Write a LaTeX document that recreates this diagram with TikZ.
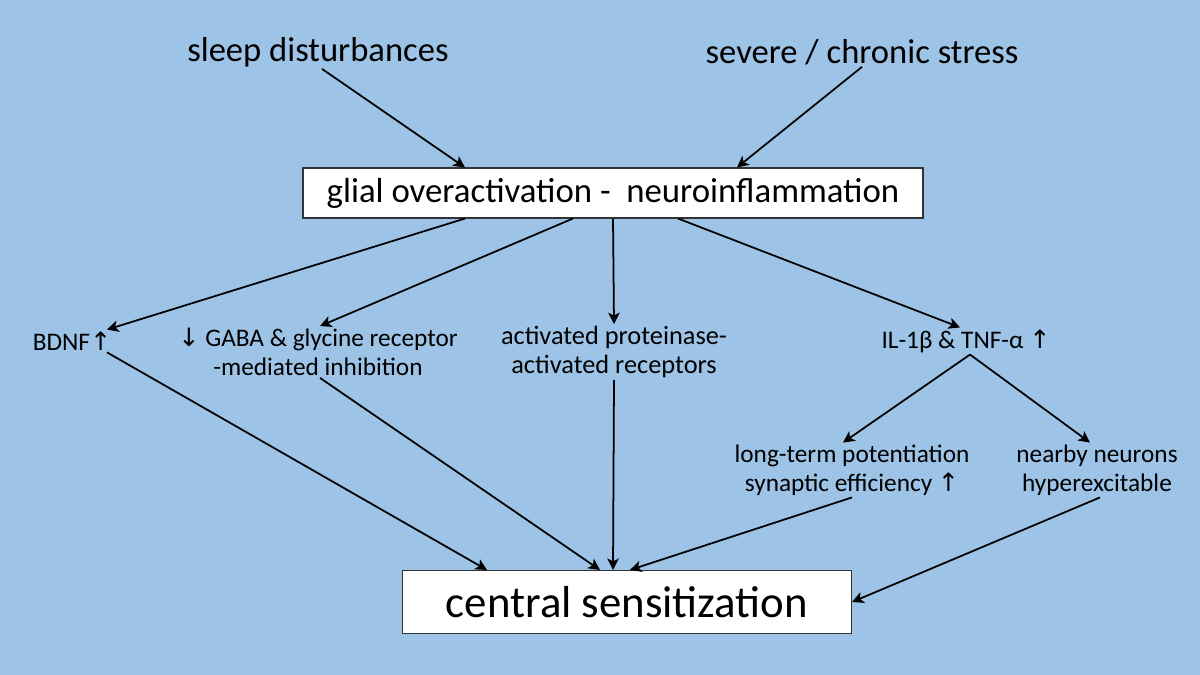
\documentclass[tikz,border=0pt]{standalone}
\usepackage{fontspec}
\setmainfont{Carlito}
\newfontfamily\symfont{DejaVu Sans}
\usetikzlibrary{positioning,arrows.meta,calc}
\definecolor{slide}{HTML}{9DC3E6}
\definecolor{ink}{HTML}{000000}
\newcommand{\up}{{\symfont\char"2191}}
\newcommand{\down}{{\symfont\char"2193}}
\tikzset{
  cause/.style={font=\fontsize{19.7}{22}\selectfont, text=ink, inner sep=1pt},
  lbl/.style={font=\fontsize{14.4}{16.5}\selectfont, text=ink, align=center, inner sep=1pt},
}

\begin{document}
\begin{tikzpicture}[x=0.02cm, y=-0.02cm,
  hub/.style={draw=ink!80, fill=white, line width=0.6pt, align=center, text=ink},
  arr/.style={-{Stealth[length=2.3mm, width=2.3mm, inset=0.6mm]}, line width=1pt, ink}]
\fill[slide] (0,0) rectangle (1200,675);
\useasboundingbox (0,0) rectangle (1200,675);
% top causes
\node[cause] (sleep) at (318,52) {sleep disturbances};
\node[cause] (stress) at (862,52) {severe / chronic stress};
\node[hub, minimum width=620*0.02cm, minimum height=50*0.02cm, font=\fontsize{19.8}{22}\selectfont] (glial) at (613,193) {glial overactivation -\ \ neuroinflammation};
% mechanisms
\node[lbl] (bdnf) at (72,341) {BDNF\up};
\node[lbl] (gaba) at (318,352) {\down\ GABA \& glycine receptor\\-mediated inhibition};
\node[lbl, font=\fontsize{15}{16.5}\selectfont] (par) at (614,352) {activated proteinase-\\activated receptors};
\node[lbl] (cyto) at (966,341) {IL-1β \& TNF-α \up};
\node[lbl] (ltp) at (852,470) {long-term potentiation\\synaptic efficiency \up};
\node[lbl] (near) at (1097,470) {nearby neurons\\hyperexcitable};
\node[hub, minimum width=449*0.02cm, minimum height=63*0.02cm, font=\fontsize{25.5}{28}\selectfont] (central) at (627,602) {central sensitization};
% connectors
\draw[arr] ([xshift=4*0.02cm]sleep.south) -- ([xshift=-148*0.02cm]glial.north);
\draw[arr] (stress.south) -- ([xshift=124*0.02cm]glial.north);
\draw[arr] ([xshift=-148*0.02cm]glial.south) -- ([xshift=35*0.02cm]bdnf.north);
\draw[arr] ([xshift=-40*0.02cm]glial.south) -- ([xshift=2*0.02cm]gaba.north);
\draw[arr] (glial.south) -- (par.north);
\draw[arr] ([xshift=65*0.02cm]glial.south) -- ([xshift=-6*0.02cm]cyto.north);
\draw[arr] ([xshift=35*0.02cm]bdnf.south) -- ([xshift=-140*0.02cm]central.north);
\draw[arr] ([xshift=2*0.02cm]gaba.south) -- ([xshift=-27*0.02cm]central.north);
\draw[arr] (par.south) -- ([xshift=-14*0.02cm]central.north);
\draw[arr] ([xshift=4*0.02cm]cyto.south) -- ([xshift=-9*0.02cm]ltp.north);
\draw[arr] ([xshift=4*0.02cm]cyto.south) -- ([xshift=-7*0.02cm]near.north);
\draw[arr] (ltp.south) -- ([xshift=3*0.02cm]central.north);
\draw[arr] ([xshift=3*0.02cm]near.south) -- (central.east);
\end{tikzpicture}
\end{document}
